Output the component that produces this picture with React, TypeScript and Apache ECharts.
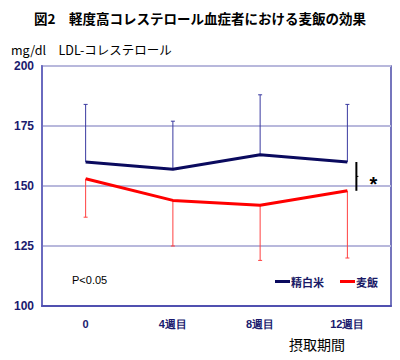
import React, { useEffect, useRef } from "react";
import * as echarts from "echarts";

const categories = ["0", "4週目", "8週目", "12週目"];
const riceMean = [160, 157, 163, 160];
const riceUpper = [184, 177, 188, 184];
const barleyMean = [153, 144, 142, 148];
const barleyLower = [137, 125, 119, 120];
const yTicks = { min: 100, max: 200, interval: 25 };
const bracketIndex = 3;

const NAVY = "#0a0a5e";
const RED = "#ff0000";

export default function App() {
  const ref = useRef<HTMLDivElement>(null);
  useEffect(() => {
    document.body.style.margin = "0";
    const chart = echarts.init(ref.current!, null, { renderer: "svg" });
    const errRender = (color: string) => (params: any, api: any) => {
      const x = api.value(0);
      const p1 = api.coord([x, api.value(1)]);
      const p2 = api.coord([x, api.value(2)]);
      return {
        type: "group",
        children: [
          { type: "line", shape: { x1: p1[0], y1: p1[1], x2: p2[0], y2: p2[1] }, style: { stroke: color, lineWidth: 1 } },
          { type: "line", shape: { x1: p2[0] - 2, y1: p2[1], x2: p2[0] + 2, y2: p2[1] }, style: { stroke: color, lineWidth: 1 } },
        ],
      };
    };
    chart.setOption({
      animation: false,
      title: [
        { text: "図2　軽度高コレステロール血症者における麦飯の効果", left: "center", top: 6, textStyle: { fontSize: 13.5, fontWeight: "bold", color: "#000", fontFamily: "Noto Sans CJK JP" } },
        { text: "mg/dl　LDL-コレステロール", left: 6, top: 38, textStyle: { fontSize: 12.5, fontWeight: "normal", color: "#000", fontFamily: "Noto Sans CJK JP" } },
        { text: "摂取期間", left: 284, top: 332, textStyle: { fontSize: 14, fontWeight: "normal", color: "#000", fontFamily: "Noto Sans CJK JP" } },
        { text: "P<0.05", left: 67, top: 269, textStyle: { fontSize: 11, fontWeight: "normal", color: "#000", fontFamily: "Liberation Sans" } },
      ],
      legend: {
        left: 270,
        top: 271,
        itemWidth: 15,
        itemHeight: 3,
        itemGap: 16,
        icon: "rect",
        textStyle: { fontSize: 11, fontWeight: "bold", color: "#1a1a66", fontFamily: "Noto Sans CJK JP", padding: [0, 0, 0, -4] },
        data: ["精白米", "麦飯"],
      },
      grid: { left: 42, right: 9, top: 66, bottom: 54, show: true, borderColor: "#4a4aa8", borderWidth: 1.5, backgroundColor: "#fff" },
      xAxis: {
        type: "category",
        data: categories,
        boundaryGap: true,
        axisLine: { lineStyle: { color: "#5050b0", width: 2 } },
        axisTick: { show: false },
        axisLabel: { margin: 12, fontSize: 11, fontWeight: "bold", color: "#1a1a6e", fontFamily: "Liberation Sans" },
      },
      yAxis: {
        type: "value",
        min: yTicks.min,
        max: yTicks.max,
        interval: yTicks.interval,
        axisLine: { show: true, lineStyle: { color: "#6a6abf", width: 2 } },
        axisTick: { show: false },
        splitLine: { lineStyle: { color: "#b8b8dc", width: 2 } },
        axisLabel: { margin: 8, fontSize: 12, fontWeight: "bold", color: "#1a1a6e", fontFamily: "Liberation Sans" },
      },
      series: [
        {
          type: "custom",
          renderItem: errRender("#3a3aa0"),
          data: riceMean.map((m, i) => [i, m, riceUpper[i]]),
          encode: { x: 0, y: [1, 2] },
          silent: true,
          z: 1,
        },
        {
          type: "custom",
          renderItem: errRender("#ff4040"),
          data: barleyMean.map((m, i) => [i, m, barleyLower[i]]),
          encode: { x: 0, y: [1, 2] },
          silent: true,
          z: 1,
        },
        {
          name: "精白米",
          type: "line",
          data: riceMean,
          symbol: "none",
          lineStyle: { color: NAVY, width: 3 },
          itemStyle: { color: NAVY },
          z: 3,
        },
        {
          name: "麦飯",
          type: "line",
          data: barleyMean,
          symbol: "none",
          lineStyle: { color: RED, width: 3 },
          itemStyle: { color: RED },
          z: 3,
        },
        {
          type: "custom",
          silent: true,
          z: 4,
          data: [[bracketIndex, riceMean[bracketIndex], barleyMean[bracketIndex]]],
          encode: { x: 0, y: [1, 2] },
          renderItem: (params: any, api: any) => {
            const x = api.value(0);
            const p1 = api.coord([x, api.value(1)]);
            const p2 = api.coord([x, api.value(2)]);
            const bx = p1[0] + 9;
            const my = (p1[1] + p2[1]) / 2;
            return {
              type: "group",
              children: [
                { type: "line", shape: { x1: bx, y1: p1[1], x2: bx, y2: p2[1] }, style: { stroke: "#000", lineWidth: 2 } },
                { type: "line", shape: { x1: bx, y1: my, x2: bx + 2, y2: my }, style: { stroke: "#000", lineWidth: 1 } },
                { type: "text", x: bx + 17, y: my + 8, style: { text: "*", fill: "#000", fontSize: 20, fontWeight: "bold", fontFamily: "Liberation Sans", align: "center", verticalAlign: "middle" } },
              ],
            };
          },
        },
      ],
    });
    return () => chart.dispose();
  }, []);
  return <div ref={ref} style={{ width: 400, height: 360 }} />;
}
